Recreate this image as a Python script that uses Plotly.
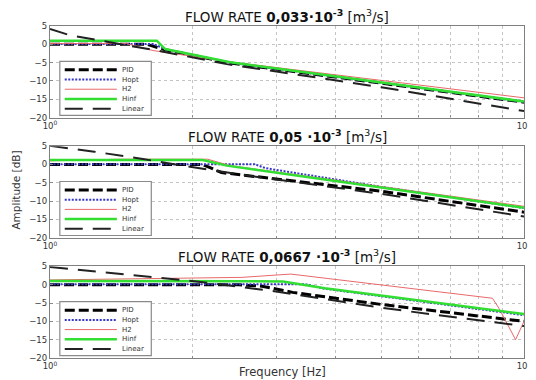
import plotly.graph_objects as go

# ---------------- data ----------------
series_names = ["PID", "Hopt", "H2", "Hinf", "Linear"]
titles = [
    "FLOW RATE <b>0,033·10<sup>-3</sup></b> [m<sup>3</sup>/s]",
    "FLOW RATE <b>0,05 ·10<sup>-3</sup></b> [m<sup>3</sup>/s]",
    "FLOW RATE <b>0,0667 ·10<sup>-3</sup></b> [m<sup>3</sup>/s]",
]
x_tickvals = [1, 10]
x_ticktext = ["10<sup>0</sup>", "10<sup>1</sup>"]
x_minor = [2, 3, 4, 5, 6, 7, 8, 9]
y_tickvals = [-20, -15, -10, -5, 0, 5]

# panel 1 : 0.033e-3 m3/s
f_pid_1 = [1, 1.6, 1.75, 2.4, 10]
pid_1 = [0, 0, -1.5, -5.1, -15.8]
f_hopt_1 = [1, 1.65, 1.76, 2.4, 10]
hopt_1 = [0.1, 0.1, -1.4, -5.0, -15.7]
f_h2_1 = [1, 1.45, 1.65, 2.4, 10]
h2_1 = [0.2, 0.2, -1.7, -4.8, -14.6]
f_hinf_1 = [1, 1.68, 1.75, 2.4, 10]
hinf_1 = [1.0, 1.0, -1.3, -4.9, -15.6]
f_lin_1 = [1, 1.1, 1.32, 1.5, 1.7, 2.36, 5, 10]
lin_1 = [4.2, 2.5, 0.7, -0.5, -1.8, -5.4, -11.7, -18.2]

# panel 2 : 0.05e-3 m3/s
f_pid_2 = [1, 2.1, 2.3, 5, 10]
pid_2 = [0, 0, -2.2, -7.3, -13.0]
f_hopt_2 = [1, 2.7, 2.85, 5, 10]
hopt_2 = [0.1, 0.1, -1.0, -6.1, -11.9]
f_h2_2 = [1, 1.4, 2.15, 2.4, 10]
h2_2 = [1.0, 1.45, 1.45, -0.3, -11.4]
f_hinf_2 = [1, 2.1, 2.36, 10]
hinf_2 = [1.2, 1.2, -0.3, -11.8]
f_lin_2 = [1, 1.24, 1.57, 1.84, 2.54, 5, 10]
lin_2 = [5.1, 3.5, 1.5, 0.0, -2.8, -8.0, -14.2]

# panel 3 : 0.0667e-3 m3/s
f_pid_3 = [1, 2.5, 2.8, 3.25, 5, 10]
pid_3 = [0, 0, -0.4, -2.1, -5.4, -10.0]
f_hopt_3 = [1, 3.45, 3.8, 10]
hopt_3 = [0.15, 0.15, -1.1, -8.3]
f_h2_3 = [1, 2.54, 3.22, 8.58, 8.87, 9.6, 10]
h2_3 = [1.3, 2.0, 2.9, -3.7, -6.6, -15.0, -10.0]
f_hinf_3 = [1, 3.1, 3.8, 10]
hinf_3 = [1.0, 0.9, -1.0, -8.0]
f_lin_3 = [1, 1.97, 2.9, 5, 10]
lin_3 = [4.8, 1.1, -1.6, -6.3, -11.3]

panels = [
    [(f_pid_1, pid_1), (f_hopt_1, hopt_1), (f_h2_1, h2_1), (f_hinf_1, hinf_1), (f_lin_1, lin_1)],
    [(f_pid_2, pid_2), (f_hopt_2, hopt_2), (f_h2_2, h2_2), (f_hinf_2, hinf_2), (f_lin_2, lin_2)],
    [(f_pid_3, pid_3), (f_hopt_3, hopt_3), (f_h2_3, h2_3), (f_hinf_3, hinf_3), (f_lin_3, lin_3)],
]

# ---------------- styles ----------------
styles = [
    dict(color="#000000", width=3, dash="10px,4px"),
    dict(color="rgb(55,55,200)", width=2, dash="2px,1.5px"),
    dict(color="rgb(232,105,105)", width=1, dash="solid"),
    dict(color="rgb(50,222,50)", width=2.5, dash="solid"),
    dict(color="#222222", width=2, dash="18px,10px"),
]
FONT = "DejaVu Sans, Verdana, sans-serif"

domains = [[0.724, 1.0], [0.362, 0.638], [0.0, 0.276]]

fig = go.Figure()
for p, data in enumerate(panels):
    ax = "" if p == 0 else str(p + 1)
    for s, (fx, fy) in enumerate(data):
        fig.add_trace(go.Scatter(
            x=fx, y=fy, mode="lines", name=series_names[s],
            line=styles[s], showlegend=False,
            xaxis="x" + ax, yaxis="y" + ax,
        ))

# the page body has an 8px margin, so the figure is 8px smaller
layout = dict(
    width=528, height=372,
    margin=dict(l=42, r=4, t=18, b=22),
    paper_bgcolor="white", plot_bgcolor="white",
    font=dict(family=FONT, color="#333"),
    showlegend=False,
)
grid_col = "#c4c4c4"
for p in range(3):
    ax = "" if p == 0 else str(p + 1)
    layout["xaxis" + ax] = dict(
        type="log", range=[0, 1], domain=[0, 1], anchor="y" + ax,
        tickvals=x_tickvals, ticktext=x_ticktext, ticklabeloverflow="allow",
        tickfont=dict(size=8.5, color="#333"),
        showgrid=True, gridcolor=grid_col, griddash="dot", gridwidth=1,
        minor=dict(tickvals=x_minor, showgrid=True, gridcolor=grid_col,
                   griddash="dot", gridwidth=1, ticks="inside", ticklen=2,
                   tickcolor="#888"),
        ticks="inside", ticklen=3, tickcolor="#888",
        showline=True, mirror=True, linecolor="#808080", linewidth=1.4,
        zeroline=False, fixedrange=True,
    )
    layout["yaxis" + ax] = dict(
        range=[-20, 5], domain=domains[p], anchor="x" + ax,
        tickvals=y_tickvals, tickfont=dict(size=8.5, color="#333"),
        ticklabeloverflow="allow",
        showgrid=True, gridcolor=grid_col, griddash="dot", gridwidth=1,
        ticks="inside", ticklen=3, tickcolor="#888",
        showline=True, mirror=True, linecolor="#808080", linewidth=1.4,
        zeroline=False, fixedrange=True,
    )
fig.update_layout(**layout)

# titles and axis labels
ann = []
shapes = []
for p in range(3):
    ax = "" if p == 0 else str(p + 1)
    ann.append(dict(
        text=titles[p], xref="x" + ax + " domain", yref="y" + ax + " domain",
        x=0.5, y=1.0, xanchor="center", yanchor="bottom", yshift=-1,
        showarrow=False, font=dict(size=13.5, color="#111"),
    ))
    # legend (drawn in domain coordinates of each panel)
    H = 91.6
    W = 482.0
    box_b = 2.3 / H
    box_t = 56.3 / H
    shapes.append(dict(
        type="rect", xref="x" + ax + " domain", yref="y" + ax + " domain",
        x0=10 / W, x1=103 / W, y0=box_b, y1=box_t,
        line=dict(color="#8a8a8a", width=1.2), fillcolor="white", layer="above",
    ))
    for s in range(5):
        yy = (56.3 - 8.5 - s * 9.7) / H
        st = styles[s]
        shapes.append(dict(
            type="line", xref="x" + ax + " domain", yref="y" + ax + " domain",
            x0=15 / W, x1=68 / W, y0=yy, y1=yy, layer="above",
            line=dict(color=st["color"], width=st["width"], dash=st["dash"]),
        ))
        ann.append(dict(
            text=series_names[s], xref="x" + ax + " domain", yref="y" + ax + " domain",
            x=71 / W, y=yy, xanchor="left", yanchor="middle", showarrow=False,
            font=dict(size=7, color="#333"),
        ))

ann.append(dict(
    text="Amplitude [dB]", xref="paper", yref="paper",
    x=-0.0726, y=0.506, xanchor="center", yanchor="middle", textangle=-90,
    showarrow=False, font=dict(size=10.5, color="#333"),
))
ann.append(dict(
    text="Frequency [Hz]", xref="paper", yref="paper",
    x=0.49, y=-0.042, xanchor="center", yanchor="middle",
    showarrow=False, font=dict(size=11.5, color="#333"),
))
fig.update_layout(annotations=ann, shapes=shapes)

fig.write_html("out.html")
